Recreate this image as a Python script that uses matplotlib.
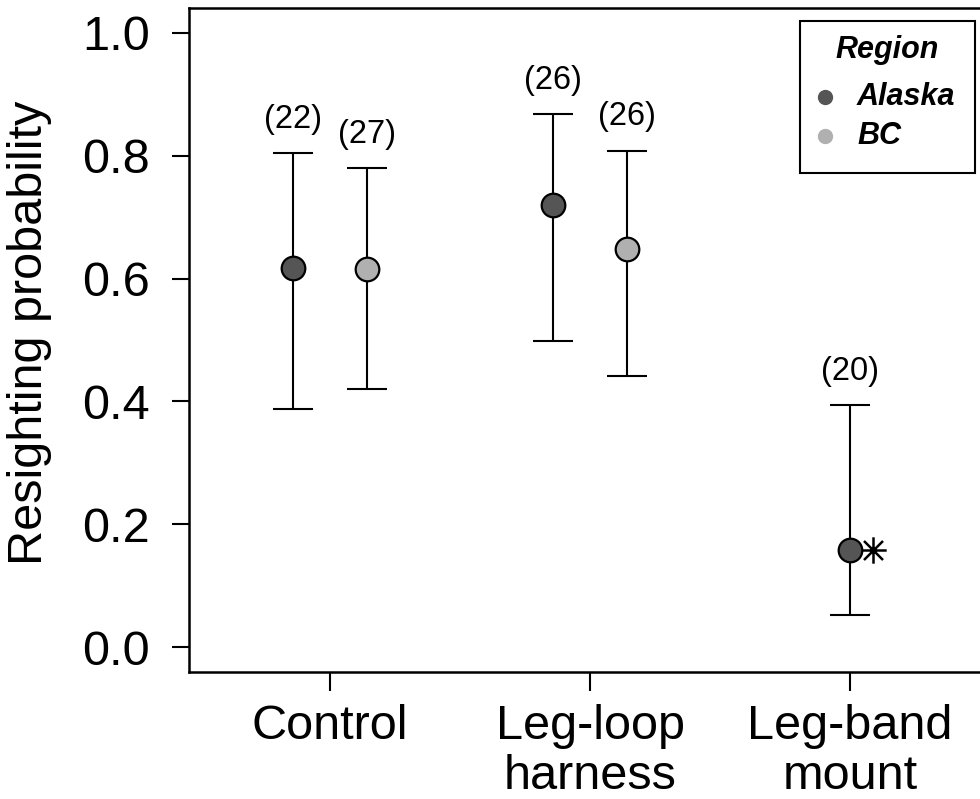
import matplotlib
matplotlib.use("Agg")
import matplotlib.pyplot as plt
from matplotlib.patches import Rectangle
from matplotlib.path import Path

plt.rcParams['font.family'] = ['Liberation Sans', 'DejaVu Sans']

treatments = ["Control", "Leg-loop\nharness", "Leg-band\nmount"]
regions = ["Alaska", "BC"]
alaska_est = [0.617, 0.719, 0.159]
alaska_low = [0.388, 0.498, 0.052]
alaska_high = [0.804, 0.867, 0.394]
alaska_n = ["(22)", "(26)", "(20)"]
bc_est = [0.615, 0.648]
bc_low = [0.420, 0.442]
bc_high = [0.779, 0.808]
bc_n = ["(27)", "(26)"]
colors = {"Alaska": "#555555", "BC": "#b0b0b0"}

W, H = 980, 799
fig = plt.figure(figsize=(9.8, 7.99), dpi=100)
ax = fig.add_axes([189/W, 1-672/H, (991-189)/W, (672-8)/H])

off = 0.142
def draw(xs, est, lo, hi, ns, col):
    for x, e, l, h, n in zip(xs, est, lo, hi, ns):
        ax.errorbar([x], [e], yerr=[[e-l], [h-e]], fmt='none', ecolor='black',
                    elinewidth=1.5, capsize=14.5, capthick=1.5, zorder=2)
        ax.plot([x], [e], 'o', ms=17, mfc=col, mec='black', mew=1.6, zorder=3)
        ax.text(x, h + 0.03, n, ha='center', va='bottom', fontsize=23.5)

ax_x = [1 - off, 2 - off, 3]
bc_x = [1 + off, 2 + off]
draw(ax_x, alaska_est, alaska_low, alaska_high, alaska_n, colors["Alaska"])
draw(bc_x, bc_est, bc_low, bc_high, bc_n, colors["BC"])

# significance asterisk (R pch 8 style: plus + cross)
d = 0.72
star = Path([(0, -1), (0, 1), (-1, 0), (1, 0), (-d, -d), (d, d), (-d, d), (d, -d)],
            [Path.MOVETO, Path.LINETO] * 4)
ax.plot([3 + 0.09], [alaska_est[2]], marker=star, ms=19, color='black', mew=1.8)

ax.set_xlim(1 - 141/260, 3 + 141/260)
ax.set_ylim(-0.04, 1.04)
ax.set_xticks([1, 2, 3])
ax.set_xticklabels(treatments, fontsize=35, linespacing=1.15)
ax.set_yticks([0, 0.2, 0.4, 0.6, 0.8, 1.0])
ax.set_yticklabels(["0.0", "0.2", "0.4", "0.6", "0.8", "1.0"], fontsize=35)
ax.tick_params(axis='y', length=12, width=1.5, pad=16)
ax.tick_params(axis='x', length=14, width=1.5, pad=9)
for s in ax.spines.values():
    s.set_linewidth(1.8)

fig.text(30/W, 1-333/H, "Resighting probability", rotation=90,
         ha='center', va='center', fontsize=35)

# legend box (drawn in figure pixel coordinates)
fig.patches.append(Rectangle((800/W, 1-173/H), 175/W, 152/H, transform=fig.transFigure,
                             fill=True, facecolor='white', edgecolor='black', lw=1.5, zorder=5))
fig.text(887/W, 1-50/H, "Region", ha='center', va='center', fontsize=22,
         fontweight='bold', fontstyle='italic', zorder=6)
for i, r in enumerate(regions):
    yy = 1 - (97 + 39*i)/H
    fig.lines.append(plt.Line2D([825/W], [yy], transform=fig.transFigure, marker='o',
                                ls='none', ms=10, mfc=colors[r], mec=colors[r], zorder=6))
    fig.text(857/W, yy, r, ha='left', va='center', fontsize=22,
             fontweight='bold', fontstyle='italic', zorder=6)

fig.savefig("out.png", dpi=100)
